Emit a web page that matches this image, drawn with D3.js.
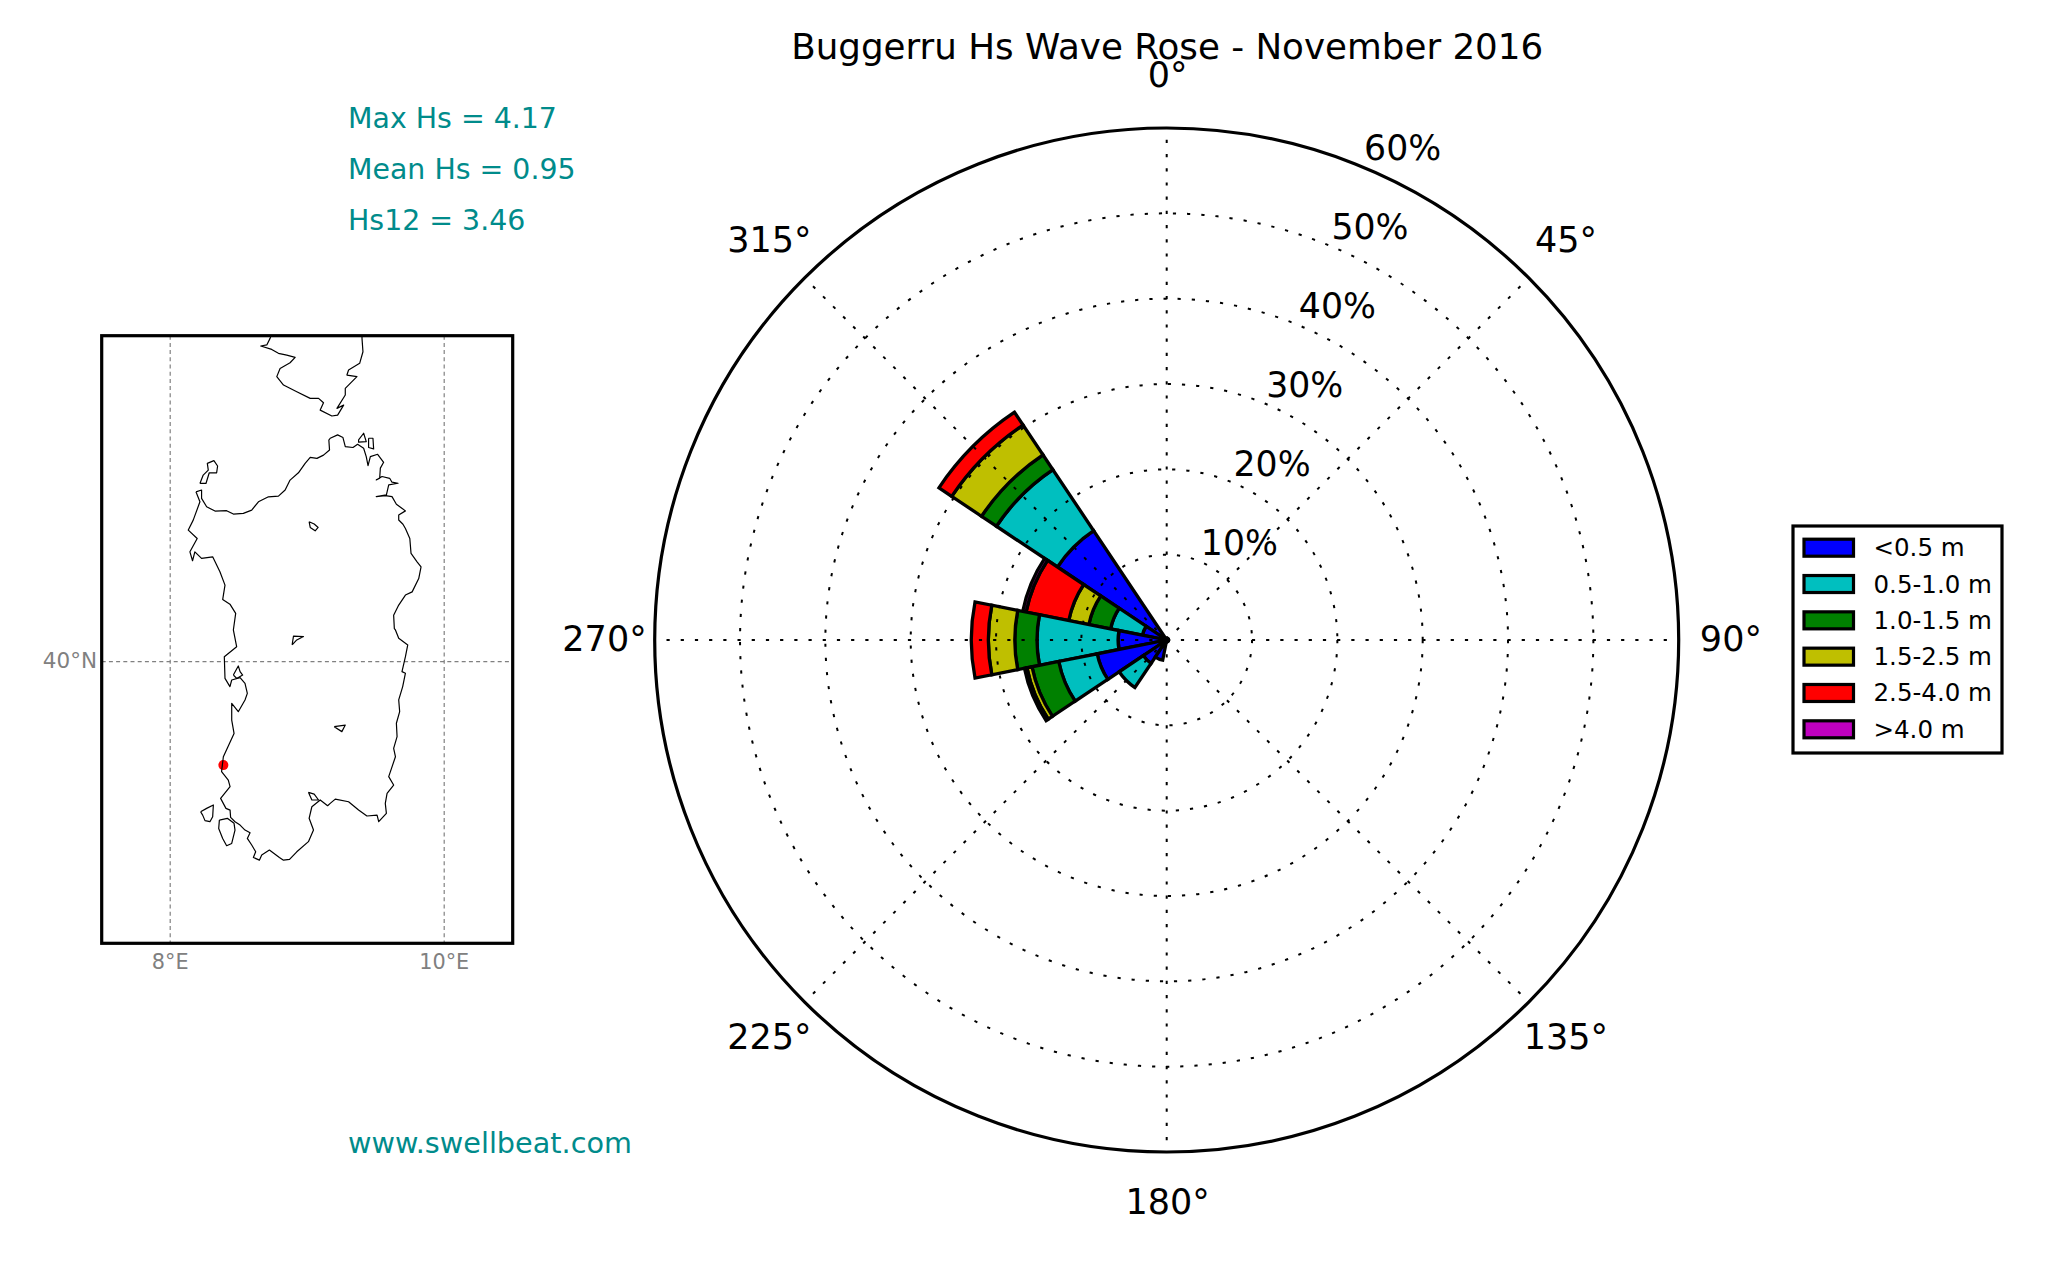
<!DOCTYPE html>
<html><head><meta charset="utf-8">
<script src="https://d3js.org/d3.v7.min.js"></script>
<style>html,body{margin:0;background:#fff}svg{display:block;font-family:"DejaVu Sans",sans-serif}</style>
</head><body><svg id="c" width="2048" height="1280"></svg>
<script>
const directions=[315,292.5,270,247.5,225,202.5,337.5,0,22.5,45,67.5,90,112.5,135,157.5,180];
const classLabels=["<0.5 m","0.5-1.0 m","1.0-1.5 m","1.5-2.5 m","2.5-4.0 m",">4.0 m"];
const classColors=["#0000ff","#00bfbf","#008000","#bfbf00","#ff0000","#bf00bf"];
const lt05=[15.4,2.9,5.7,8.3,3.3,2.4,0.2,0.2,0.2,0.2,0.2,0.2,0.2,0.2,0.2,0.2];
const f05=[8.6,3.8,9.5,4.6,3.4,0,0,0,0,0,0,0,0,0,0,0];
const f10=[2.1,2.6,2.6,3.2,0,0,0,0,0,0,0,0,0,0,0,0];
const f15=[4.2,2.4,3.1,0.6,0,0,0,0,0,0,0,0,0,0,0,0];
const f25=[1.8,5.1,2.0,0.3,0,0,0,0,0,0,0,0,0,0,0,0];
const f40=[0,0.4,0,0,0,0,0,0,0,0,0,0,0,0,0,0];
const classes=[lt05,f05,f10,f15,f25,f40];
const radialTicks=[10,20,30,40,50,60];
const angleTicks=[0,45,90,135,180,225,270,315];
const statLines=["Max Hs = 4.17","Mean Hs = 0.95","Hs12 = 3.46"];
const siteUrl="www.swellbeat.com";
const sardinia=[[8.188,40.954],[8.229,40.964],[8.229,40.917],[8.266,40.870],[8.327,40.846],[8.412,40.848],[8.461,40.829],[8.534,40.833],[8.595,40.851],[8.644,40.898],[8.717,40.926],[8.790,40.930],[8.839,40.964],[8.875,41.020],[8.936,41.061],[8.985,41.114],[9.022,41.147],[9.071,41.142],[9.119,41.160],[9.163,41.189],[9.158,41.245],[9.168,41.255],[9.222,41.274],[9.261,41.259],[9.278,41.208],[9.334,41.203],[9.368,41.221],[9.412,41.199],[9.431,41.152],[9.444,41.101],[9.461,41.152],[9.514,41.165],[9.558,41.120],[9.534,41.087],[9.529,41.030],[9.504,41.021],[9.546,41.040],[9.602,41.030],[9.619,41.008],[9.663,41.002],[9.595,40.993],[9.578,40.937],[9.504,40.927],[9.570,40.933],[9.619,40.927],[9.651,40.884],[9.717,40.847],[9.668,40.824],[9.668,40.796],[9.699,40.772],[9.717,40.748],[9.749,40.692],[9.758,40.608],[9.802,40.561],[9.831,40.533],[9.814,40.467],[9.766,40.392],[9.717,40.374],[9.668,40.318],[9.631,40.261],[9.636,40.186],[9.644,40.178],[9.668,40.131],[9.734,40.094],[9.717,40.028],[9.692,39.944],[9.717,39.935],[9.697,39.860],[9.668,39.785],[9.675,39.719],[9.651,39.654],[9.656,39.579],[9.631,39.513],[9.644,39.466],[9.595,39.354],[9.631,39.307],[9.583,39.260],[9.570,39.204],[9.578,39.148],[9.522,39.101],[9.510,39.138],[9.436,39.133],[9.375,39.167],[9.302,39.213],[9.205,39.228],[9.168,39.204],[9.149,39.191],[9.095,39.223],[9.034,39.185],[9.014,39.120],[9.046,39.054],[9.009,38.989],[8.924,38.932],[8.871,38.889],[8.827,38.885],[8.797,38.900],[8.724,38.942],[8.668,38.914],[8.651,38.885],[8.607,38.900],[8.624,38.932],[8.595,38.970],[8.563,39.007],[8.583,39.039],[8.546,39.054],[8.510,39.082],[8.473,39.101],[8.441,39.125],[8.437,39.166],[8.407,39.176],[8.368,39.232],[8.437,39.298],[8.424,39.335],[8.375,39.382],[8.388,39.466],[8.466,39.597],[8.449,39.672],[8.449,39.766],[8.497,39.719],[8.546,39.785],[8.563,39.822],[8.546,39.878],[8.510,39.910],[8.449,39.897],[8.436,39.860],[8.400,39.906],[8.395,40.028],[8.485,40.084],[8.461,40.178],[8.478,40.271],[8.436,40.323],[8.383,40.349],[8.400,40.430],[8.363,40.505],[8.310,40.589],[8.229,40.580],[8.180,40.617],[8.163,40.567],[8.144,40.617],[8.197,40.692],[8.132,40.739],[8.168,40.795],[8.217,40.898],[8.188,40.954]];
const corsica=[[8.745,41.850],[8.729,41.816],[8.705,41.779],[8.661,41.773],[8.741,41.754],[8.790,41.732],[8.851,41.722],[8.912,41.709],[8.875,41.679],[8.802,41.647],[8.778,41.601],[8.827,41.554],[8.924,41.516],[9.022,41.479],[9.083,41.479],[9.119,41.454],[9.095,41.413],[9.180,41.380],[9.222,41.385],[9.266,41.441],[9.217,41.423],[9.278,41.498],[9.278,41.535],[9.363,41.601],[9.290,41.610],[9.302,41.638],[9.383,41.676],[9.407,41.741],[9.400,41.816],[9.400,41.850]];
const islets=[
[[8.217,41.001],[8.241,41.048],[8.278,41.076],[8.271,41.114],[8.319,41.129],[8.346,41.099],[8.339,41.061],[8.285,41.061],[8.261,41.001],[8.217,41.001]],
[[9.014,40.786],[9.051,40.773],[9.080,40.754],[9.058,40.735],[9.022,40.754],[9.014,40.786]],
[[8.890,40.094],[8.900,40.144],[8.973,40.141],[8.924,40.122],[8.890,40.094]],
[[9.197,39.635],[9.278,39.644],[9.253,39.607],[9.197,39.635]],
[[9.375,41.246],[9.412,41.283],[9.431,41.236],[9.375,41.233],[9.375,41.246]],
[[9.448,41.255],[9.480,41.255],[9.485,41.195],[9.448,41.203],[9.448,41.255]],
[[8.461,39.925],[8.497,39.976],[8.510,39.944],[8.529,39.925],[8.485,39.906],[8.461,39.925]],
[[8.222,39.157],[8.266,39.176],[8.315,39.195],[8.310,39.129],[8.290,39.101],[8.254,39.107],[8.237,39.138],[8.222,39.157]],
[[8.359,39.110],[8.417,39.120],[8.466,39.092],[8.473,39.054],[8.449,38.979],[8.412,38.966],[8.383,39.007],[8.354,39.063],[8.359,39.110]],
[[9.009,39.266],[9.051,39.256],[9.083,39.223],[9.034,39.223],[9.009,39.266]]
];
const station=[8.388,39.419];
const lonTicks=[8,10];
const latTicks=[40];

const svg=d3.select("#c");
const title="Buggerru Hs Wave Rose - November 2016";
const cx=1166.7,cy=640,R=512;
const rad=d3.scaleLinear().domain([0,60]).range([0,R]);
const ang=d3.scaleLinear().domain([0,360]).range([0,2*Math.PI]);
const binWidth=22.5;
const g=svg.append("g").attr("transform",`translate(${cx},${cy})`);
const arc=d3.arc();
directions.forEach((dir,i)=>{
  let base=0;
  classes.forEach((cls,k)=>{
    const v=cls[i];
    if(v>0){
      g.append("path").attr("d",arc({innerRadius:rad(base),outerRadius:rad(base+v),startAngle:ang(dir-binWidth/2),endAngle:ang(dir+binWidth/2)}))
       .attr("fill",classColors[k]).attr("stroke","#000").attr("stroke-width",3.3).attr("stroke-linejoin","miter");
    }
    base+=v;
  });
});
const dots="3.2 11";
radialTicks.slice(0,-1).forEach(t=>g.append("circle").attr("r",rad(t)).attr("fill","none").attr("stroke","#000").attr("stroke-width",2).attr("stroke-dasharray",dots));
angleTicks.forEach(a=>{const t=ang(a);g.append("line").attr("x1",0).attr("y1",0).attr("x2",R*Math.sin(t)).attr("y2",-R*Math.cos(t)).attr("stroke","#000").attr("stroke-width",2).attr("stroke-dasharray",dots);});
g.append("circle").attr("r",R).attr("fill","none").attr("stroke","#000").attr("stroke-width",3.2);
angleTicks.forEach(a=>{const t=ang(a);g.append("text").attr("x",rad(66)*Math.sin(t)+1).attr("y",-rad(66)*Math.cos(t)-1.5).attr("text-anchor","middle").attr("dominant-baseline","central").attr("font-size",35).text(a+"°");});
radialTicks.forEach(v=>{const t=ang(22.5);g.append("text").attr("x",rad(v)*Math.sin(t)+1.5).attr("y",-rad(v)*Math.cos(t)-6.5).attr("font-size",34.7).text(v+"%");});
svg.append("text").attr("x",cx+0.5).attr("y",59).attr("text-anchor","middle").attr("font-size",35.7).text(title);
const statY=[128,179,230];
statLines.forEach((s,i)=>svg.append("text").attr("x",348).attr("y",statY[i]).attr("fill","#008b8b").attr("font-size",28.4).text(s));
svg.append("text").attr("x",348).attr("y",1152.5).attr("fill","#008b8b").attr("font-size",28.7).text(siteUrl);
// map
const x0=101.7,x1=512.7,y0=335.7,y1=943.3;
const lonS=d3.scaleLinear().domain([7.5,10.5]).range([x0,x1]);
const latS=d3.scaleLinear().domain([38.418,41.831]).range([y1,y0]);
const defs=svg.append("defs");defs.append("clipPath").attr("id","mc").append("rect").attr("x",x0).attr("y",y0).attr("width",x1-x0).attr("height",y1-y0);
const m=svg.append("g");
const mp=m.append("g").attr("clip-path","url(#mc)");
const line=d3.line().x(d=>lonS(d[0])).y(d=>latS(d[1]));
lonTicks.forEach(l=>mp.append("line").attr("x1",lonS(l)).attr("x2",lonS(l)).attr("y1",y0).attr("y2",y1).attr("stroke","#808080").attr("stroke-width",1.2).attr("stroke-dasharray","4 3.2"));
latTicks.forEach(l=>mp.append("line").attr("y1",latS(l)).attr("y2",latS(l)).attr("x1",x0).attr("x2",x1).attr("stroke","#808080").attr("stroke-width",1.2).attr("stroke-dasharray","4 3.2"));
mp.append("circle").attr("cx",lonS(station[0])).attr("cy",latS(station[1])).attr("r",5).attr("fill","#ff0000");
[sardinia,corsica,...islets].forEach(c=>mp.append("path").attr("d",line(c)).attr("fill","none").attr("stroke","#000").attr("stroke-width",1.2).attr("stroke-linejoin","round"));
m.append("rect").attr("x",x0).attr("y",y0).attr("width",x1-x0).attr("height",y1-y0).attr("fill","none").attr("stroke","#000").attr("stroke-width",3.2);
lonTicks.forEach(l=>m.append("text").attr("x",lonS(l)).attr("y",969).attr("text-anchor","middle").attr("fill","#808080").attr("font-size",20.8).text(l+"°E"));
latTicks.forEach(l=>m.append("text").attr("x",97).attr("y",latS(l)+6).attr("text-anchor","end").attr("fill","#808080").attr("font-size",21.5).text(l+"°N"));
// legend
const lg=svg.append("g");
lg.append("rect").attr("x",1793).attr("y",526).attr("width",209).attr("height",227).attr("fill","#fff").attr("stroke","#000").attr("stroke-width",3.2);
const legY=d3.scaleLinear().domain([0,5]).range([547.7,729.3]);
classLabels.forEach((s,i)=>{
  lg.append("rect").attr("x",1804).attr("y",legY(i)-8.5).attr("width",49.5).attr("height",17).attr("fill",classColors[i]).attr("stroke","#000").attr("stroke-width",3.2);
  lg.append("text").attr("x",1873.5).attr("y",legY(i)+8.5).attr("font-size",24.5).text(s);
});
</script></body></html>
